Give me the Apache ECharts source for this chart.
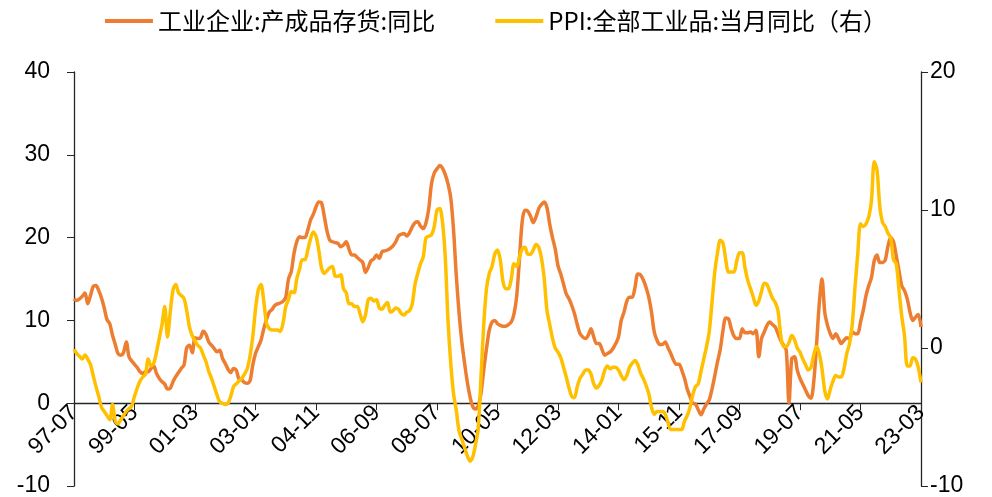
<!DOCTYPE html>
<html>
<head>
<meta charset="utf-8">
<script src="https://cdn.jsdelivr.net/npm/echarts@6/dist/echarts.min.js"></script>
<style>
  html, body { margin: 0; padding: 0; background: #fff; }
  #chart { width: 992px; height: 497px; }
</style>
</head>
<body>
<div id="chart"></div>
<script>
// monthly, 1997-07 .. 2023-03
const startYear = 1997
const startMonth = 7

// 工业企业:产成品存货:同比 (%)
const inventoryYoY = [
  12.6, 12.4, 12.6, 12.9, 13.3, 12.0,
  13.0, 14.1, 14.2, 13.6, 12.7, 11.5, 10.1, 9.6, 8.2, 7.1, 6.0, 5.8,
  6.1, 7.4, 5.6, 5.1, 4.7, 4.3, 3.8, 3.6, 3.8, 3.8, 4.2, 4.5,
  3.6, 3.0, 2.6, 2.3, 1.7, 1.8, 2.6, 3.2, 3.7, 4.2, 4.6, 6.7,
  7.0, 6.1, 7.9, 7.8, 7.9, 8.7, 8.3, 7.4, 7.0, 6.6, 6.2, 6.4,
  5.4, 4.8, 4.1, 3.7, 4.2, 4.0, 2.9, 2.8, 2.5, 2.4, 2.7, 4.6,
  6.0, 6.8, 7.6, 9.0, 10.1, 11.0, 11.3, 11.8, 12.0, 12.1, 12.3, 12.8,
  15.0, 15.9, 18.1, 19.5, 20.1, 20.0, 20.0, 20.9, 22.1, 22.8, 23.7, 24.3,
  24.2, 22.6, 20.8, 19.7, 19.5, 19.4, 19.3, 18.9, 19.1, 19.5, 18.6, 17.9,
  17.9, 17.6, 17.3, 17.0, 15.8, 16.4, 17.2, 17.4, 17.9, 17.5, 18.3, 18.4,
  18.5, 18.7, 19.0, 19.5, 20.2, 20.4, 20.5, 20.2, 20.6, 21.3, 21.8, 21.9,
  21.4, 21.1, 21.8, 23.5, 26.5, 27.8, 28.3, 28.7, 28.4, 27.6, 26.5, 24.8,
  21.0, 15.5, 11.0, 7.5, 4.9, 2.6, 0.8, -0.4, -0.7, -0.3, 1.2, 4.0,
  6.6, 8.8, 9.8, 10.0, 9.6, 9.4, 9.3, 9.3, 9.5, 9.8, 10.8, 13.0,
  17.5, 22.0, 23.3, 23.2, 22.6, 21.8, 22.5, 23.5, 24.0, 24.3, 23.6, 21.6,
  20.0, 18.6, 16.6, 15.6, 14.4, 13.2, 12.6, 11.8, 10.8, 9.5, 8.4, 8.0,
  7.8, 8.2, 9.0, 8.0, 7.2, 7.2, 6.5, 5.8, 6.0, 6.2, 6.6, 7.2,
  8.0, 10.0, 11.0, 12.3, 12.8, 12.8, 14.0, 15.6, 15.5, 14.9, 14.0, 12.8,
  11.0, 8.6, 7.6, 7.1, 7.1, 7.4, 6.7, 6.0, 5.2, 4.7, 4.7, 4.0,
  3.0, 1.7, 0.8, 0.0, -0.1, -0.8, -1.4, -0.7, -0.1, 0.4, 1.7, 3.3,
  5.0, 6.5, 8.8, 10.3, 10.2, 9.0, 8.1, 7.8, 7.8, 9.0, 8.5, 8.5,
  8.6, 8.4, 8.8, 5.6, 7.8, 8.6, 9.4, 9.8, 9.5, 9.2, 8.4, 7.6,
  7.0, 6.4, 0.0, 5.4, 5.6, 4.0, 3.0, 2.3, 1.6, 0.9, 0.6, 2.6,
  7.0, 12.0, 15.0, 11.0, 9.4, 8.4, 7.8, 8.4, 7.8, 7.2, 7.6, 7.9,
  7.8, 8.6, 8.4, 8.4, 9.8, 11.2, 13.0, 14.2, 15.2, 17.2, 17.9, 17.0,
  17.0, 17.3, 19.0, 20.0, 19.5, 17.8, 16.0, 14.2, 13.6, 12.6, 11.0, 10.0,
  10.4, 10.7, 9.2
]

// PPI:全部工业品:当月同比 (%), right axis
const ppiYoY = [
  -0.1, -0.4, -0.6, -0.8, -0.5, -0.8,
  -1.2, -2.0, -2.8, -3.5, -4.3, -4.6, -4.9, -5.2, -4.1, -5.3, -5.5, -5.2,
  -4.9, -4.6, -4.4, -4.2, -3.5, -2.9, -2.4, -2.1, -1.9, -0.8, -1.3, -1.1,
  -0.3, 0.7, 1.7, 3.0, 0.8, 2.6, 4.2, 4.6, 4.0, 3.8, 3.6, 2.7,
  1.5, 0.9, 0.5, 0.2, 0.0, -0.5, -1.0, -1.7, -2.2, -2.8, -3.4, -3.9,
  -4.0, -4.1, -4.0, -3.5, -2.8, -2.6, -2.4, -2.2, -1.9, -1.5, -0.6, 0.8,
  2.8, 4.2, 4.6, 3.4, 1.8, 1.4, 1.3, 1.3, 1.3, 1.2, 1.8, 3.0,
  3.5, 4.1, 4.0, 5.0, 5.7, 6.4, 6.4, 7.1, 7.9, 8.4, 8.1, 7.1,
  5.8, 5.4, 5.6, 5.8, 5.9, 5.2, 5.2, 5.3, 4.3, 4.0, 3.2, 3.2,
  3.0, 3.0, 2.5, 1.9, 2.4, 3.5, 3.6, 3.4, 3.5, 2.9, 2.8, 3.1,
  3.3, 2.6, 2.7, 2.9, 2.8, 2.5, 2.4, 2.6, 2.7, 3.2, 4.6, 5.4,
  6.1, 6.6, 8.0, 8.1, 8.2, 8.8, 10.0, 10.1, 9.1, 6.6, 2.0, -1.1,
  -3.3, -4.5, -6.0, -6.6, -7.2, -7.8, -8.2, -7.9, -7.0, -5.8, -2.1, 1.7,
  4.3, 5.4, 5.9, 6.8, 7.1, 6.4, 4.8, 4.3, 4.3, 5.0, 6.1, 5.9,
  6.6, 7.2, 7.3, 6.8, 6.8, 7.1, 7.5, 7.3, 6.5, 5.0, 2.7, 1.7,
  0.7, 0.0, -0.3, -0.7, -1.4, -2.1, -2.9, -3.5, -3.6, -2.8, -2.2, -1.9,
  -1.6, -1.6, -1.9, -2.6, -2.9, -2.7, -2.3, -1.6, -1.3, -1.5, -1.4, -1.4,
  -1.6, -2.0, -2.3, -2.0, -1.4, -1.1, -0.9, -1.2, -1.8, -2.2, -2.7, -3.3,
  -4.3, -4.8, -4.6, -4.6, -4.6, -4.8, -5.4, -5.9, -5.9, -5.9, -5.9, -5.9,
  -5.3, -4.9, -4.3, -3.4, -2.8, -2.6, -1.7, -0.8, 0.1, 1.2, 3.3, 5.5,
  6.9, 7.8, 7.6, 6.4, 5.5, 5.5, 5.5, 6.3, 6.9, 6.9, 5.8, 4.9,
  4.3, 3.7, 3.1, 3.4, 4.1, 4.7, 4.6, 4.1, 3.6, 3.3, 2.7, 0.9,
  0.1, 0.1, 0.4, 0.9, 0.6, 0.0, -0.3, -0.8, -1.2, -1.6, -1.4, -0.5,
  0.1, -0.4, -1.5, -3.1, -3.7, -3.0, -2.4, -2.0, -2.1, -2.1, -1.5, -0.4,
  0.3, 1.7, 4.4, 6.8, 9.0, 8.8, 9.0, 9.5, 10.7, 13.5, 12.9, 10.3,
  9.1, 8.8, 8.3, 8.0, 6.4, 6.1, 4.2, 2.3, 0.9, -1.3, -1.3, -0.7,
  -0.8, -1.4, -2.5
]

const seriesNames = ['工业企业:产成品存货:同比', 'PPI:全部工业品:当月同比（右）']
const leftTicks = { min: -10, max: 40, interval: 10 }
const rightTicks = { min: -10, max: 20, interval: 10 }

const months = inventoryYoY.map((_, i) => {
  const m = startMonth - 1 + i
  const yy = String((startYear + Math.floor(m / 12)) % 100).padStart(2, '0')
  const mm = String(m % 12 + 1).padStart(2, '0')
  return yy + '-' + mm
})

const axisColor = '#262626'
const numFont = 'Liberation Sans, Arial, sans-serif'

const gridTop = 72
const gridBottom = 11
const plotHeight = 497 - gridTop - gridBottom
// the x axis sits on the left axis' zero line, labels included
const zeroOffset = -plotHeight * (0 - leftTicks.min) / (leftTicks.max - leftTicks.min)

const chart = echarts.init(document.getElementById('chart'))
chart.setOption({
  animation: false,
  legend: {
    top: 4,
    left: 'center',
    icon: 'rect',
    itemWidth: 48,
    itemHeight: 4,
    itemGap: 60,
    textStyle: {
      fontSize: 24,
      color: '#000',
      fontFamily: 'Noto Sans CJK SC, sans-serif'
    },
    data: seriesNames
  },
  grid: {
    left: 74,
    right: 71,
    top: gridTop,
    bottom: gridBottom,
    containLabel: false,
    outerBoundsMode: 'none'
  },
  xAxis: {
    type: 'category',
    data: months,
    boundaryGap: false,
    offset: zeroOffset,
    axisLine: { onZero: false, lineStyle: { color: axisColor, width: 1.3 } },
    axisTick: { interval: 21, length: 7, lineStyle: { color: axisColor } },
    axisLabel: {
      interval: 21,
      rotate: 45,
      margin: 6,
      fontSize: 23,
      color: '#000',
      fontFamily: numFont
    },
    splitLine: { show: false }
  },
  yAxis: [{
    type: 'value',
    min: leftTicks.min,
    max: leftTicks.max,
    interval: leftTicks.interval,
    axisLine: { show: true, lineStyle: { color: axisColor, width: 1.3 } },
    axisTick: { show: true, length: 7, lineStyle: { color: axisColor } },
    axisLabel: { margin: 24, fontSize: 23, color: '#000', fontFamily: numFont },
    splitLine: { show: false }
  }, {
    type: 'value',
    position: 'right',
    min: rightTicks.min,
    max: rightTicks.max,
    interval: rightTicks.interval,
    axisLine: { show: true, lineStyle: { color: axisColor, width: 1.3 } },
    axisTick: { show: true, length: 7, lineStyle: { color: axisColor } },
    axisLabel: { margin: 9, fontSize: 23, color: '#000', fontFamily: numFont },
    splitLine: { show: false }
  }],
  series: [{
    name: seriesNames[0],
    type: 'line',
    yAxisIndex: 0,
    data: inventoryYoY,
    color: '#ED7D31',
    showSymbol: false,
    smooth: 0.3,
    lineStyle: { width: 3.5 }
  }, {
    name: seriesNames[1],
    type: 'line',
    yAxisIndex: 1,
    data: ppiYoY,
    color: '#FFC000',
    showSymbol: false,
    smooth: 0.3,
    lineStyle: { width: 3.5 }
  }]
})
</script>
</body>
</html>
